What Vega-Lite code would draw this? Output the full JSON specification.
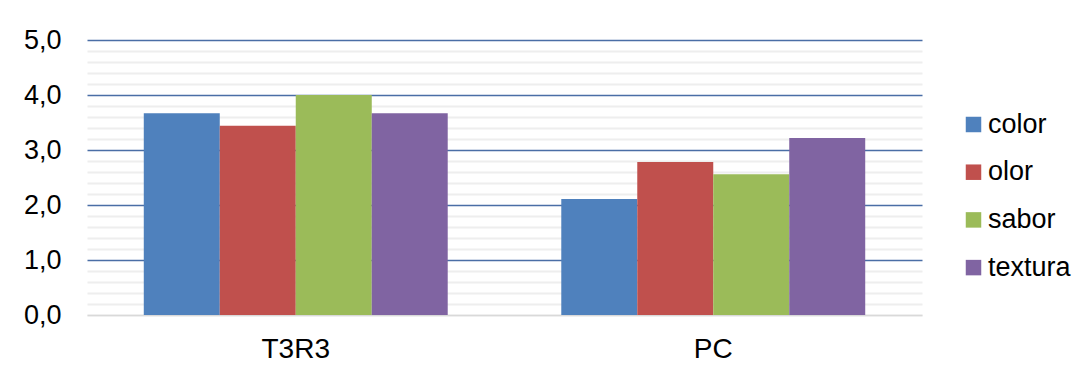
{
  "$schema": "https://vega.github.io/schema/vega-lite/v6.json",
  "width": 835,
  "height": 275,
  "autosize": "none",
  "padding": {"left": 87, "top": 40, "right": 160, "bottom": 61},
  "background": "white",
  "data": {
    "values": [
      {"muestra": "T3R3", "atributo": "color", "puntaje": 3.67},
      {"muestra": "T3R3", "atributo": "olor", "puntaje": 3.44},
      {"muestra": "T3R3", "atributo": "sabor", "puntaje": 4.0},
      {"muestra": "T3R3", "atributo": "textura", "puntaje": 3.67},
      {"muestra": "PC", "atributo": "color", "puntaje": 2.11},
      {"muestra": "PC", "atributo": "olor", "puntaje": 2.78},
      {"muestra": "PC", "atributo": "sabor", "puntaje": 2.56},
      {"muestra": "PC", "atributo": "textura", "puntaje": 3.22}
    ]
  },
  "mark": {"type": "bar"},
  "encoding": {
    "x": {
      "field": "muestra",
      "type": "nominal",
      "sort": ["T3R3", "PC"],
      "scale": {"paddingInner": 0.272, "paddingOuter": 0.136},
      "axis": {
        "title": null,
        "labelAngle": 0,
        "ticks": false,
        "domain": true,
        "domainColor": "#d9d9d9",
        "domainWidth": 1.5,
        "labelPadding": 20,
        "labelFont": "Liberation Sans",
        "labelFontSize": 28,
        "labelColor": "#000000"
      }
    },
    "xOffset": {
      "field": "atributo",
      "type": "nominal",
      "sort": ["color", "olor", "sabor", "textura"],
      "scale": {"paddingInner": 0, "paddingOuter": 0}
    },
    "y": {
      "field": "puntaje",
      "type": "quantitative",
      "scale": {"domain": [0, 5], "nice": false},
      "axis": {
        "title": null,
        "values": [0, 0.2, 0.4, 0.6, 0.8, 1, 1.2, 1.4, 1.6, 1.8, 2, 2.2, 2.4, 2.6, 2.8, 3, 3.2, 3.4, 3.6, 3.8, 4, 4.2, 4.4, 4.6, 4.8, 5],
        "labelExpr": "datum.value % 1 === 0 ? replace(format(datum.value, '.1f'), '.', ',') : ''",
        "labelOverlap": false,
        "ticks": false,
        "domain": false,
        "grid": true,
        "gridColor": {"condition": {"test": "datum.value % 1 === 0 && datum.value > 0", "value": "#4a6ea6"}, "value": "#eeeeee"},
        "gridWidth": {"condition": {"test": "datum.value % 1 === 0 && datum.value > 0", "value": 1.3}, "value": 2},
        "labelPadding": 26,
        "labelFont": "Liberation Sans",
        "labelFontSize": 27,
        "labelColor": "#000000"
      }
    },
    "color": {
      "field": "atributo",
      "type": "nominal",
      "sort": ["color", "olor", "sabor", "textura"],
      "scale": {"range": ["#4f81bd", "#c0504d", "#9bbb59", "#8064a2"]},
      "legend": {
        "title": null,
        "orient": "none",
        "legendX": 873,
        "legendY": 71,
        "padding": 0,
        "symbolType": "square",
        "symbolSize": 240,
        "symbolStrokeWidth": 0,
        "rowPadding": 19.7,
        "labelOffset": 1,
        "labelFont": "Liberation Sans",
        "labelFontSize": 27,
        "labelColor": "#000000"
      }
    }
  },
  "config": {
    "view": {"stroke": null}
  }
}
